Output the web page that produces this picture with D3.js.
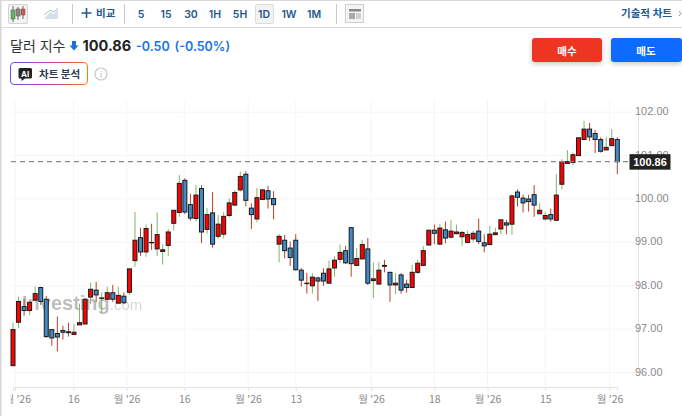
<!DOCTYPE html>
<html>
<head>
<meta charset="utf-8">
<script src="https://cdn.jsdelivr.net/npm/d3@7"></script>
<style>
  html, body { margin: 0; padding: 0; background: #fff; overflow: hidden; }
  text { font-family: Inter, "Noto Sans CJK KR", sans-serif; }
</style>
</head>
<body>
<div id="chart"></div>
<script>
var svgWidth = 682;
var svgHeight = 416;

// candles, oldest first
var opens = [96.16,97.16,97.52,97.43,97.67,97.96,97.69,96.99,96.90,96.97,96.94,96.88,97.10,97.12,97.74,97.90,97.71,97.69,97.84,97.60,97.76,97.85,98.58,99.11,98.78,99.00,98.85,98.79,98.93,99.44,99.69,100.43,99.87,99.55,100.24,99.30,99.68,99.14,99.19,99.62,99.86,100.21,100.57,99.79,99.54,99.99,100.19,100.01,98.96,99.05,98.87,99.05,98.36,98.06,98.00,98.18,98.29,98.06,98.41,98.61,98.81,99.34,98.47,98.62,98.85,98.12,98.04,98.47,98.31,98.02,98.25,98.04,97.96,98.31,98.47,98.94,99.28,98.96,99.29,99.12,99.20,99.13,99.00,99.08,99.26,98.99,98.95,99.18,99.31,99.45,99.42,100.16,100.02,100.00,100.10,99.66,99.54,99.64,99.51,100.34,100.82,100.84,101.00,101.37,101.61,101.51,101.37,101.13,101.23,101.37];
var highs = [97.15,97.75,97.70,97.64,97.98,97.98,97.76,96.99,97.29,97.08,97.15,97.12,97.59,97.73,98.07,98.09,97.85,97.98,98.02,97.98,97.85,98.39,99.70,99.34,99.41,99.43,99.69,98.96,99.31,99.75,100.55,100.48,100.12,100.32,100.32,99.79,100.16,99.63,99.70,100.02,100.21,100.63,100.64,99.90,100.25,100.23,100.30,100.18,99.19,99.17,99.02,99.19,98.41,98.30,98.29,98.21,98.40,98.58,98.68,98.95,98.92,99.35,98.87,99.06,99.10,98.54,98.55,98.60,98.32,98.29,98.29,98.14,98.48,98.60,98.92,99.31,99.41,99.42,99.48,99.51,99.41,99.27,99.27,99.27,99.55,99.19,99.38,99.34,99.54,99.52,100.11,100.22,100.10,100.10,100.32,99.90,99.71,99.78,100.57,100.92,101.13,101.07,101.42,101.80,101.75,101.59,101.42,101.43,101.61,101.42];
var lows = [96.16,97.03,97.31,97.33,97.67,97.56,96.80,96.62,96.49,96.76,96.83,96.88,97.10,97.12,97.58,97.62,97.36,97.69,97.63,97.60,97.58,97.79,98.44,98.69,98.67,98.83,98.69,98.49,98.69,99.27,99.59,99.65,99.50,99.48,98.98,99.20,98.88,99.08,99.09,99.57,99.83,100.17,99.83,99.31,99.46,99.99,99.78,99.53,98.54,98.63,98.46,98.35,97.98,97.82,97.82,97.65,98.00,98.05,98.21,98.52,98.50,98.21,98.45,98.62,98.02,97.72,98.02,98.31,97.63,97.81,97.82,97.84,97.96,98.27,98.46,98.92,98.96,98.95,98.98,99.09,99.19,98.92,98.97,99.00,98.96,98.77,98.95,99.16,99.19,99.19,99.17,99.83,99.69,99.71,99.59,99.66,99.50,99.48,99.51,100.22,100.82,100.78,101.00,101.37,101.34,101.06,101.07,101.13,101.23,100.57];
var closes = [96.99,97.64,97.43,97.62,97.82,97.64,96.83,96.80,96.82,96.93,96.92,96.93,97.15,97.69,97.92,97.79,97.72,97.84,97.69,97.78,97.61,98.39,99.05,98.78,99.32,98.99,99.18,98.83,99.24,99.74,100.36,99.70,99.56,100.09,99.24,99.64,98.96,99.42,99.60,99.91,100.15,100.52,99.97,99.64,100.03,100.21,100.00,99.87,99.14,98.81,98.65,98.37,98.13,98.05,98.20,98.11,98.11,98.39,98.59,98.77,98.53,98.51,98.63,98.95,98.06,98.16,98.36,98.45,98.02,98.06,97.90,97.96,98.31,98.52,98.81,99.28,99.21,99.33,99.10,99.26,99.24,99.23,99.18,99.21,99.02,98.92,99.19,99.22,99.52,99.40,100.07,100.04,99.91,99.94,99.86,99.74,99.62,99.54,100.09,100.86,100.86,101.02,101.41,101.61,101.43,101.37,101.10,101.19,101.39,100.86];

var lastPrice = 100.86;
var priceTicks = [96, 97, 98, 99, 100, 101, 102];
var timeTicks = [0.4, 10.9, 20.5, 30.9, 42.4, 51, 64.6, 76, 85.6, 96, 107.6];
var timeLabels = ["월 '26", "16", "월 '26", "16", "월 '26", "13", "월 '26", "18", "월 '26", "15", "월 '26"];
var intervals = ["5", "15", "30", "1H", "5H", "1D", "1W", "1M"];
var intervalX = [141, 166, 191, 215, 240, 264, 289, 314];

var margin = { top: 100, right: 44, bottom: 29, left: 11 };
var width = svgWidth - margin.left - margin.right;
var height = svgHeight - margin.top - margin.bottom;

var svg = d3.select("#chart").append("svg")
    .attr("width", svgWidth)
    .attr("height", svgHeight)
    .style("display", "block");

var navy = "#23598c";

// x is the candle number, y the price
var xScale = d3.scaleLinear().domain([0, opens.length - 1]).range([13 - margin.left, 617.3 - margin.left]);
var yScale = d3.scaleLinear().domain([96, 102]).range([372.6 - margin.top, 112.2 - margin.top]);

// page frame and toolbar
svg.append("rect").attr("x", 0).attr("y", 0).attr("width", 1.5).attr("height", svgHeight).attr("fill", "#d6d6d6");
svg.append("rect").attr("x", 0).attr("y", 0).attr("width", svgWidth).attr("height", 1).attr("fill", "#d9d9d9");
svg.append("rect").attr("x", 0).attr("y", 27).attr("width", svgWidth).attr("height", 1).attr("fill", "#d9d9d9");

[72, 124, 336].forEach(function(x) {
    svg.append("rect").attr("x", x).attr("y", 4).attr("width", 1).attr("height", 20).attr("fill", "#c9c9c9");
});

// candle button
svg.append("rect").attr("x", 8.5).attr("y", 4.5).attr("width", 19).attr("height", 19).attr("rx", 1.5)
    .attr("fill", "#f3f3f3").attr("stroke", "#d2d2d2");
[[13, 6, 22, 10, 19, "#5cb85c"], [18, 7, 20, 9, 16, "#888"], [23, 6, 19, 9, 15, "#d9534f"]].forEach(function(c) {
    svg.append("line").attr("x1", c[0]).attr("x2", c[0]).attr("y1", c[1]).attr("y2", c[2]).attr("stroke", "#666");
    svg.append("rect").attr("x", c[0] - 2).attr("y", c[3]).attr("width", 4).attr("height", c[4] - c[3])
        .attr("fill", c[5]).attr("stroke", "#555").attr("stroke-width", 0.5);
});

// mountain button
svg.append("path").attr("d", "M44 19L50 12L54 14L58 9V19Z").attr("fill", "#d5e0ec");
svg.append("path").attr("d", "M44 15L50 10L54 12L58 8").attr("fill", "none").attr("stroke", "#a9c0d8");

// compare button
svg.append("path").attr("d", "M86.5 8V18M81.5 13H91.5").attr("stroke", navy).attr("stroke-width", 1.6);
svg.append("text").attr("x", 96).attr("y", 17).attr("font-size", 10.5).attr("font-weight", 700).attr("fill", navy).text("비교");

svg.append("rect").attr("x", 255.5).attr("y", 4.5).attr("width", 18).attr("height", 19).attr("rx", 1.5)
    .attr("fill", "#f2f2f2").attr("stroke", "#dcdcdc");
svg.selectAll(".interval").data(intervals).enter().append("text")
    .attr("class", "interval")
    .attr("x", function(d, i) { return intervalX[i]; })
    .attr("y", 17.5)
    .attr("text-anchor", "middle")
    .attr("font-size", 10.5)
    .attr("font-weight", 600)
    .attr("fill", navy)
    .text(function(d) { return d; });

// layout button
svg.append("rect").attr("x", 345.5).attr("y", 4.5).attr("width", 18).attr("height", 18).attr("fill", "#f4f4f4").attr("stroke", "#cfcfcf");
svg.append("rect").attr("x", 349).attr("y", 9).attr("width", 12).attr("height", 2.5).attr("fill", "#888");
svg.append("rect").attr("x", 349).attr("y", 13).attr("width", 6).attr("height", 6).attr("fill", "#aaa");
svg.append("rect").attr("x", 356).attr("y", 13).attr("width", 5).attr("height", 6).attr("fill", "#d0d0d0");

svg.append("text").attr("x", 672).attr("y", 17).attr("text-anchor", "end").attr("font-size", 10.5)
    .attr("font-weight", 600).attr("fill", navy).text("기술적 차트");
svg.append("path").attr("d", "M679 11L681 13.5L679 16").attr("fill", "none").attr("stroke", "#7f9cb8");

// instrument title
svg.append("text").attr("x", 10).attr("y", 51).attr("font-size", 14).attr("fill", "#333").text("달러 지수");
svg.append("path").attr("d", "M72 41H76V45.5H78.5L74 50.5L69.5 45.5H72Z").attr("fill", "#1a6fd8");
svg.append("text").attr("x", 82.5).attr("y", 51).attr("font-size", 14.5).attr("font-weight", 700).attr("fill", "#222").text("100.86");
svg.append("text").attr("x", 136).attr("y", 50.5).attr("font-size", 12.5).attr("font-weight", 600).attr("fill", "#1a73e8").text("-0.50");
svg.append("text").attr("x", 174.5).attr("y", 50.5).attr("font-size", 12.5).attr("font-weight", 600).attr("fill", "#1a73e8").text("(-0.50%)");

// AI badge
var defs = svg.append("defs");
var badge = defs.append("linearGradient").attr("id", "badgeBorder");
badge.append("stop").attr("offset", "0%").attr("stop-color", "#6c4cf1");
badge.append("stop").attr("offset", "60%").attr("stop-color", "#d03fa0");
badge.append("stop").attr("offset", "100%").attr("stop-color", "#ff7a00");
svg.append("rect").attr("x", 10.5).attr("y", 62.5).attr("width", 77).attr("height", 22).attr("rx", 3.5)
    .attr("fill", "#fff").attr("stroke", "url(#badgeBorder)");
svg.append("path").attr("d", "M20 68H30.5Q32 68 32 69.5V77Q32 78.5 30.5 78.5H25L21.5 81V78.5H20Q18.5 78.5 18.5 77V69.5Q18.5 68 20 68Z").attr("fill", "#222");
svg.append("text").attr("x", 25.2).attr("y", 76.5).attr("text-anchor", "middle").attr("font-size", 8).attr("font-weight", 700).attr("fill", "#fff").text("AI");
svg.append("text").attr("x", 39).attr("y", 77.5).attr("font-size", 10.5).attr("font-weight", 700).attr("fill", "#2b3a55").text("차트 분석");
svg.append("circle").attr("cx", 101).attr("cy", 74).attr("r", 6).attr("fill", "none").attr("stroke", "#c8c8c8").attr("stroke-width", 1.2);
svg.append("text").attr("x", 101).attr("y", 77.5).attr("text-anchor", "middle").attr("font-size", 9).attr("fill", "#bbb").text("i");

// buy and sell buttons
var glow = defs.append("filter").attr("id", "glow").attr("x", "-20%").attr("y", "-30%").attr("width", "140%").attr("height", "170%");
glow.append("feDropShadow").attr("dx", 0).attr("dy", 2).attr("stdDeviation", 2.5).attr("flood-opacity", 0.22);
[[532, 70, "#ee3524", "매수"], [611, 71, "#0a6cff", "매도"]].forEach(function(b) {
    svg.append("rect").attr("x", b[0]).attr("y", 38).attr("width", b[1]).attr("height", 24).attr("rx", 3)
        .attr("fill", b[2]).attr("filter", "url(#glow)");
    svg.append("text").attr("x", b[0] + 35).attr("y", 54.5).attr("text-anchor", "middle").attr("font-size", 10.5)
        .attr("font-weight", 700).attr("fill", "#fff").text(b[3]);
});

var chartGroup = svg.append("g").attr("transform", `translate(${margin.left}, ${margin.top})`);

// grid
chartGroup.selectAll(".hgrid").data(priceTicks).enter().append("line")
    .attr("class", "hgrid")
    .attr("x1", 0).attr("x2", width)
    .attr("y1", function(d) { return yScale(d); })
    .attr("y2", function(d) { return yScale(d); })
    .attr("stroke", "#f4f5f7");
chartGroup.selectAll(".vgrid").data(timeTicks).enter().append("line")
    .attr("class", "vgrid")
    .attr("x1", function(d) { return xScale(d); })
    .attr("x2", function(d) { return xScale(d); })
    .attr("y1", 0).attr("y2", height)
    .attr("stroke", "#f4f5f7");

// watermark
var mark = chartGroup.append("text").attr("x", 11).attr("y", 210).attr("fill", "#000").attr("opacity", 0.26)
    .style("font-family", "'Liberation Sans', sans-serif");
mark.append("tspan").attr("font-size", 20).attr("font-weight", 700).text("Investing");
mark.append("tspan").attr("font-size", 15).attr("opacity", 0.65).text(".com");

// axes
var bottomAxis = d3.axisBottom(xScale)
    .tickValues(timeTicks)
    .tickSize(4)
    .tickPadding(5)
    .tickFormat(function(d, i) { return timeLabels[i]; });
var rightAxis = d3.axisRight(yScale)
    .tickValues(priceTicks)
    .tickSize(0)
    .tickPadding(-3)
    .tickFormat(d3.format(".2f"));

var xAxisGroup = chartGroup.append("g")
    .attr("transform", `translate(0, ${height})`)
    .call(bottomAxis);
var yAxisGroup = chartGroup.append("g")
    .attr("transform", `translate(${width}, 0)`)
    .call(rightAxis);

xAxisGroup.select(".domain").attr("stroke", "#e0e3ea");
xAxisGroup.selectAll(".tick line").attr("stroke", "#dfe3ea");
xAxisGroup.selectAll("text").attr("fill", "#8a8a8a").attr("font-size", 10.5)
    .style("font-family", "'Noto Sans CJK KR', sans-serif");
xAxisGroup.select(".tick text").attr("dx", 2).attr("clip-path", "url(#firstTick)");
defs.append("clipPath").attr("id", "firstTick").append("rect")
    .attr("x", -5).attr("y", 0).attr("width", 40).attr("height", 30);

yAxisGroup.select(".domain").attr("stroke", "#e0e3ea");
yAxisGroup.selectAll("text").attr("fill", "#8a8a8a").attr("font-size", 11)
    .attr("dy", "0.22em")
    .style("font-family", "'Liberation Sans', sans-serif");

// candles
var candles = chartGroup.selectAll(".candle").data(opens).enter().append("g").attr("class", "candle");

candles.append("line")
    .attr("x1", function(d, i) { return xScale(i); })
    .attr("x2", function(d, i) { return xScale(i); })
    .attr("y1", function(d, i) { return yScale(highs[i]); })
    .attr("y2", function(d, i) { return yScale(lows[i]); })
    .attr("stroke", function(d, i) { return closes[i] >= opens[i] ? "#7db86a" : "#b8402a"; });

candles.append("rect")
    .attr("x", function(d, i) { return xScale(i) - 2; })
    .attr("width", 4)
    .attr("y", function(d, i) { return yScale(Math.max(opens[i], closes[i])); })
    .attr("height", function(d, i) { return Math.abs(yScale(opens[i]) - yScale(closes[i])); })
    .attr("fill", function(d, i) { return closes[i] >= opens[i] ? "#ff0000" : "#4189c7"; })
    .attr("stroke", "#1a1a1a")
    .attr("stroke-width", 1);

// last price
chartGroup.append("line")
    .attr("x1", 0).attr("x2", width)
    .attr("y1", yScale(lastPrice)).attr("y2", yScale(lastPrice))
    .attr("stroke", "#8a8a8a")
    .attr("stroke-width", 1.2)
    .attr("stroke-dasharray", "5,4");
chartGroup.append("rect")
    .attr("x", width - 8.5)
    .attr("y", yScale(lastPrice) - 7.5)
    .attr("width", 41)
    .attr("height", 15.5)
    .attr("fill", "#222");
chartGroup.append("text")
    .attr("x", width + 12)
    .attr("y", yScale(lastPrice) + 4)
    .attr("text-anchor", "middle")
    .attr("font-size", 11)
    .attr("font-weight", 700)
    .attr("fill", "#fff")
    .style("font-family", "'Liberation Sans', sans-serif")
    .text(d3.format(".2f")(lastPrice));
</script>
</body>
</html>
